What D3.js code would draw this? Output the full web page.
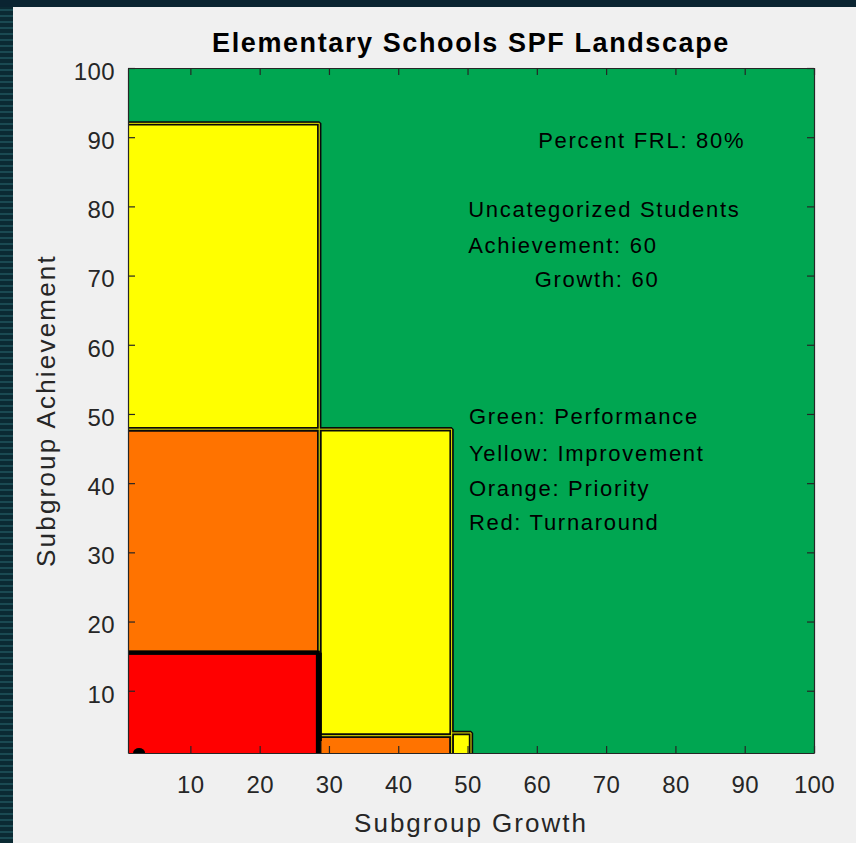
<!DOCTYPE html>
<html>
<head>
<meta charset="utf-8">
<script src="https://cdn.jsdelivr.net/npm/d3@7"></script>
<style>
  body { margin: 0; background: #0c2833; }
  svg { display: block; }
</style>
</head>
<body>
<div id="chart-container"></div>
<script>
// chart values
let categories = ["Performance", "Improvement", "Priority", "Turnaround"];
let categoryColors = ["#00a651", "#ffff00", "#ff7300", "#ff0000"];

// zones drawn over the green (Performance) background, in data units
let zoneCategory = ["Improvement", "Priority", "Turnaround", "Improvement", "Priority", "Improvement"];
let zoneGrowthFrom = [1, 1, 1, 28.6, 28.6, 47.7];
let zoneGrowthTo = [28.6, 28.6, 28.4, 47.7, 47.7, 50.5];
let zoneAchievementFrom = [47.8, 15.5, 1, 3.5, 1, 1];
let zoneAchievementTo = [92, 47.8, 15.5, 47.8, 3.5, 3.9];

let xTicks = [10, 20, 30, 40, 50, 60, 70, 80, 90, 100];
let yTicks = [10, 20, 30, 40, 50, 60, 70, 80, 90, 100];

let noteLines = ["Percent FRL: 80%", "Uncategorized Students", "Achievement: 60", "Growth: 60",
    "Green: Performance", "Yellow: Improvement", "Orange: Priority", "Red: Turnaround"];
let noteGrowth = [60.2, 50.1, 50.1, 59.7, 50.2, 50.2, 50.2, 50.2];
let noteAchievement = [88.4, 78.5, 73.3, 68.4, 48.5, 43.2, 38.2, 33.2];

let markGrowth = [2.6];
let markAchievement = [1];

let titleText = "Elementary Schools SPF Landscape";
let xLabel = "Subgroup Growth";
let yLabel = "Subgroup Achievement";

// set the dimensions and margins of the graph
let fullWidth = 856, fullHeight = 843;
let margin = {top: 68, right: 42, bottom: 90, left: 128},
    width = fullWidth - margin.left - margin.right,
    height = fullHeight - margin.top - margin.bottom;

let font = "'Liberation Sans', Arial, Helvetica, sans-serif";
let axisColor = "#262626";

let colorOf = d3.scaleOrdinal().domain(categories).range(categoryColors);

let root = d3.select("#chart-container")
    .append("svg")
    .attr("width", fullWidth)
    .attr("height", fullHeight);

// dark desktop frame behind the figure window
let defs = root.append("defs");
let stripes = defs.append("pattern")
    .attr("id", "stripes")
    .attr("width", 14)
    .attr("height", 6)
    .attr("patternUnits", "userSpaceOnUse");
stripes.append("rect").attr("width", 14).attr("height", 6).attr("fill", "#0b2a33");
stripes.append("rect").attr("y", 3).attr("width", 14).attr("height", 2).attr("fill", "#1a4a52");

root.append("rect")
    .attr("width", fullWidth)
    .attr("height", fullHeight)
    .attr("fill", "url(#stripes)");
root.append("rect")
    .attr("width", fullWidth)
    .attr("height", 7)
    .attr("fill", "#0a2431");
root.append("rect")
    .attr("x", 13)
    .attr("y", 7)
    .attr("width", fullWidth - 13)
    .attr("height", fullHeight - 7)
    .attr("fill", "#f0f0f0");

defs.append("clipPath")
    .attr("id", "plot-clip")
    .append("rect")
    .attr("width", width)
    .attr("height", height);

let svg = root.append("g")
    .attr("transform", "translate(" + margin.left + "," + margin.top + ")");

let x = d3.scaleLinear().domain([1, 100]).range([0, width]);
let y = d3.scaleLinear().domain([1, 100]).range([height, 0]);

let zones = zoneCategory.map((c, i) => ({
    category: c,
    g0: zoneGrowthFrom[i], g1: zoneGrowthTo[i],
    a0: zoneAchievementFrom[i], a1: zoneAchievementTo[i]
}));

// edges lying on the axes are pushed out so their outline is clipped away
function zoneBox(d) {
    let left = x(d.g0), right = x(d.g1), top = y(d.a1), bottom = y(d.a0);
    if (d.g0 <= x.domain()[0]) left -= 5;
    if (d.a0 <= y.domain()[0]) bottom += 5;
    return {x: left, y: top, w: right - left, h: bottom - top};
}

function boxRects(sel, cls, data) {
    return sel.selectAll("rect." + cls)
        .data(data)
        .enter()
        .append("rect")
        .attr("class", cls)
        .attr("x", d => zoneBox(d).x)
        .attr("y", d => zoneBox(d).y)
        .attr("width", d => zoneBox(d).w)
        .attr("height", d => zoneBox(d).h);
}

let plot = svg.append("g").attr("clip-path", "url(#plot-clip)");

plot.append("rect")
    .attr("width", width)
    .attr("height", height)
    .attr("fill", colorOf("Performance"));

boxRects(plot, "zone", zones)
    .attr("fill", d => colorOf(d.category));

// contour style outlines: black double line with a thin yellow core
boxRects(plot, "edge", zones.filter(d => d.category !== "Turnaround"))
    .attr("fill", "none")
    .attr("stroke", "#0a0a0a")
    .attr("stroke-width", 4.4)
    .attr("stroke-linejoin", "bevel");

boxRects(plot, "core", zones.filter(d => d.category === "Improvement"))
    .attr("fill", "none")
    .attr("stroke", "#e8e800")
    .attr("stroke-width", 1)
    .attr("stroke-linejoin", "bevel");

boxRects(plot, "red-edge", zones.filter(d => d.category === "Turnaround"))
    .attr("fill", "none")
    .attr("stroke", "#000")
    .attr("stroke-width", 4);

// heavier seam where red meets the yellow column
plot.selectAll("line.seam")
    .data(zones.filter(d => d.category === "Turnaround"))
    .enter()
    .append("line")
    .attr("class", "seam")
    .attr("x1", d => x(d.g1) + 1.5)
    .attr("x2", d => x(d.g1) + 1.5)
    .attr("y1", d => y(d.a1))
    .attr("y2", d => y(d.a0) - 12)
    .attr("stroke", "#000")
    .attr("stroke-width", 5);

plot.selectAll("ellipse.mark")
    .data(markGrowth)
    .enter()
    .append("ellipse")
    .attr("class", "mark")
    .attr("cx", (d, i) => x(d))
    .attr("cy", (d, i) => y(markAchievement[i]))
    .attr("rx", 6)
    .attr("ry", 5)
    .attr("fill", "#000");

// notes inside the plot
svg.selectAll("text.note")
    .data(noteLines)
    .enter()
    .append("text")
    .attr("class", "note")
    .attr("x", (d, i) => x(noteGrowth[i]))
    .attr("y", (d, i) => y(noteAchievement[i]))
    .style("font-family", font)
    .style("font-size", "22px")
    .style("letter-spacing", "1.7px")
    .attr("fill", "#000")
    .text(d => d);

// axes, ticks pointing inward on all four sides
function styleAxis(g) {
    g.attr("font-family", null).attr("font-size", null);
    g.select(".domain").attr("stroke", axisColor).attr("stroke-width", 1.2);
    g.selectAll(".tick line").attr("stroke", axisColor).attr("stroke-width", 1.2);
    g.selectAll(".tick text")
        .attr("fill", axisColor)
        .style("font-family", font)
        .style("font-size", "24px")
        .style("letter-spacing", "0.4px");
}

svg.append("g")
    .attr("class", "x axis")
    .attr("transform", "translate(0," + height + ")")
    .call(d3.axisBottom(x).tickValues(xTicks).tickSizeInner(-7).tickSizeOuter(0).tickPadding(23))
    .call(styleAxis);

svg.append("g")
    .attr("class", "x2 axis")
    .call(d3.axisTop(x).tickValues(xTicks).tickSizeInner(-7).tickSizeOuter(0).tickFormat(""))
    .call(styleAxis);

svg.append("g")
    .attr("class", "y axis")
    .call(d3.axisLeft(y).tickValues(yTicks).tickSizeInner(-7).tickSizeOuter(0).tickPadding(13))
    .call(styleAxis)
    .selectAll(".tick text")
    .attr("dy", "0.47em");

svg.append("g")
    .attr("class", "y2 axis")
    .attr("transform", "translate(" + width + ",0)")
    .call(d3.axisRight(y).tickValues(yTicks).tickSizeInner(-7).tickSizeOuter(0).tickFormat(""))
    .call(styleAxis);

// Title
svg.append("text")
    .attr("x", width / 2)
    .attr("y", 52 - margin.top)
    .style("text-anchor", "middle")
    .style("font-family", font)
    .style("font-weight", "bold")
    .style("font-size", "27px")
    .style("letter-spacing", "1.6px")
    .attr("fill", "#000")
    .text(titleText);

svg.append("text")
    .attr("x", width / 2)
    .attr("y", height + 79)
    .style("text-anchor", "middle")
    .style("font-family", font)
    .style("font-size", "26px")
    .style("letter-spacing", "2px")
    .attr("fill", axisColor)
    .text(xLabel);

svg.append("text")
    .attr("transform", "rotate(-90)")
    .attr("x", -height / 2)
    .attr("y", 55 - margin.left)
    .style("text-anchor", "middle")
    .style("font-family", font)
    .style("font-size", "26px")
    .style("letter-spacing", "2.2px")
    .attr("fill", axisColor)
    .text(yLabel);
</script>
</body>
</html>
